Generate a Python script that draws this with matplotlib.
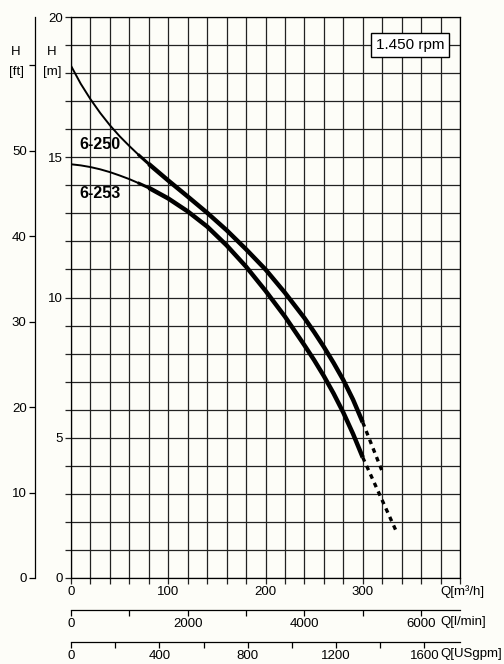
import matplotlib.pyplot as plt
import numpy as np

plt.rcParams['font.family'] = ['Liberation Sans', 'DejaVu Sans']

# flow in m3/h, head in m
q = [0, 10, 20, 30, 40, 50, 60, 70, 80, 100, 120, 140, 160, 180, 200, 220, 240,
     250, 260, 270, 280, 290, 300]
h_250 = [18.26, 17.62, 17.07, 16.58, 16.14, 15.75, 15.40, 15.07, 14.76, 14.17, 13.60,
         13.02, 12.40, 11.72, 11.00, 10.17, 9.27, 8.77, 8.24, 7.67, 7.06, 6.36, 5.55]
h_253 = [14.75, 14.71, 14.65, 14.57, 14.47, 14.35, 14.22, 14.07, 13.91, 13.53, 13.07,
         12.53, 11.86, 11.10, 10.24, 9.32, 8.30, 7.77, 7.20, 6.58, 5.90, 5.14, 4.30]

# dashed extension past the operating range
q_ext_250 = [300, 320]
h_ext_250 = [5.55, 3.8]
q_ext_253 = [300, 334]
h_ext_253 = [4.3, 1.7]

labels = ['6-250', '6-253']
speed = '1.450 rpm'

BG = '#fdfdf8'
W, H = 504, 664


def fx(px):
    return px / W


def fy(py):
    return 1 - py / H


def main():
    fig = plt.figure(figsize=(W / 100, H / 100), dpi=100, facecolor=BG)
    ax = fig.add_axes([fx(71), fy(578), 389 / W, 561 / H], facecolor=BG)
    ax.set_xlim(0, 400)
    ax.set_ylim(0, 20)

    ax.set_xticks(np.arange(0, 401, 20))
    ax.set_xticklabels([str(v) if v % 100 == 0 and v < 400 else '' for v in range(0, 401, 20)])
    ax.set_yticks(np.arange(0, 21, 1))
    ax.set_yticklabels([str(v) if v % 5 == 0 else '' for v in range(0, 21)])
    ax.tick_params(direction='out', length=4, width=0.9, color='#222222',
                   labelsize=9.5, pad=2)
    ax.grid(True, color='#222222', lw=0.9)
    ax.set_axisbelow(True)
    for s in ax.spines.values():
        s.set_color('black')
        s.set_linewidth(0.9)

    # curves: thin at low flow, thick in the working range
    for hh in (h_250, h_253):
        ax.plot(q[:8], hh[:8], color='black', lw=1.4, solid_joinstyle='round')
        ax.plot(q[7:9], hh[7:9], color='black', lw=2.2, solid_joinstyle='round')
        ax.plot(q[8:], hh[8:], color='black', lw=3.2, solid_joinstyle='round',
                solid_capstyle='butt')
    ax.plot(q_ext_250, h_ext_250, color='black', lw=2.4, ls=(0, (1.4, 1.4)))
    ax.plot(q_ext_253, h_ext_253, color='black', lw=2.4, ls=(0, (1.4, 1.4)))

    ax.text(8.2, 15.44, labels[0], fontsize=11.5, fontweight='bold', va='center')
    ax.text(8.2, 13.69, labels[1], fontsize=11.5, fontweight='bold', va='center')
    ax.text(348.6, 19.0, speed, fontsize=11, ha='center', va='center',
            bbox=dict(boxstyle='square,pad=0.3', fc='white', ec='black', lw=1.0))

    # head in feet
    ft = ax.secondary_yaxis(-0.0925, functions=(lambda m: m * 3.28084, lambda f: f / 3.28084))
    ft.set_yticks([0, 10, 20, 30, 40, 50, 60])
    ft.set_yticklabels(['0', '10', '20', '30', '40', '50', ''])
    ft.tick_params(direction='out', length=4, width=0.9, labelsize=9.5, pad=2)
    ft.spines['left'].set_linewidth(0.9)

    # flow in l/min and US gpm
    lmin = ax.secondary_xaxis(-0.057, functions=(lambda x: x * 1000 / 60, lambda l: l * 60 / 1000))
    lmin.set_xticks(np.arange(0, 6001, 1000))
    lmin.set_xticklabels(['0', '', '2000', '', '4000', '', '6000'])
    lmin.tick_params(direction='out', length=4, width=0.9, labelsize=9.5, pad=2)
    lmin.spines['bottom'].set_linewidth(0.9)

    gpm = ax.secondary_xaxis(-0.114, functions=(lambda x: x * 4.40287, lambda g: g / 4.40287))
    gpm.set_xticks(np.arange(0, 1601, 200))
    gpm.set_xticklabels(['0', '', '400', '', '800', '', '1200', '', '1600'])
    gpm.tick_params(direction='out', length=4, width=0.9, labelsize=9.5, pad=2)
    gpm.spines['bottom'].set_linewidth(0.9)

    fig.text(fx(440), fy(592), 'Q[m³/h]', fontsize=9.5, va='center')
    fig.text(fx(440), fy(622), 'Q[l/min]', fontsize=9.5, va='center')
    fig.text(fx(440), fy(654), 'Q[USgpm]', fontsize=9.5, va='center')

    fig.text(fx(16), fy(52), 'H', fontsize=9.5, ha='center', va='center')
    fig.text(fx(16), fy(72), '[ft]', fontsize=9.5, ha='center', va='center')
    fig.text(fx(52), fy(52), 'H', fontsize=9.5, ha='center', va='center')
    fig.text(fx(52), fy(72), '[m]', fontsize=9.5, ha='center', va='center')

    fig.savefig('out.png', dpi=100, facecolor=BG)


if __name__ == '__main__':
    main()
